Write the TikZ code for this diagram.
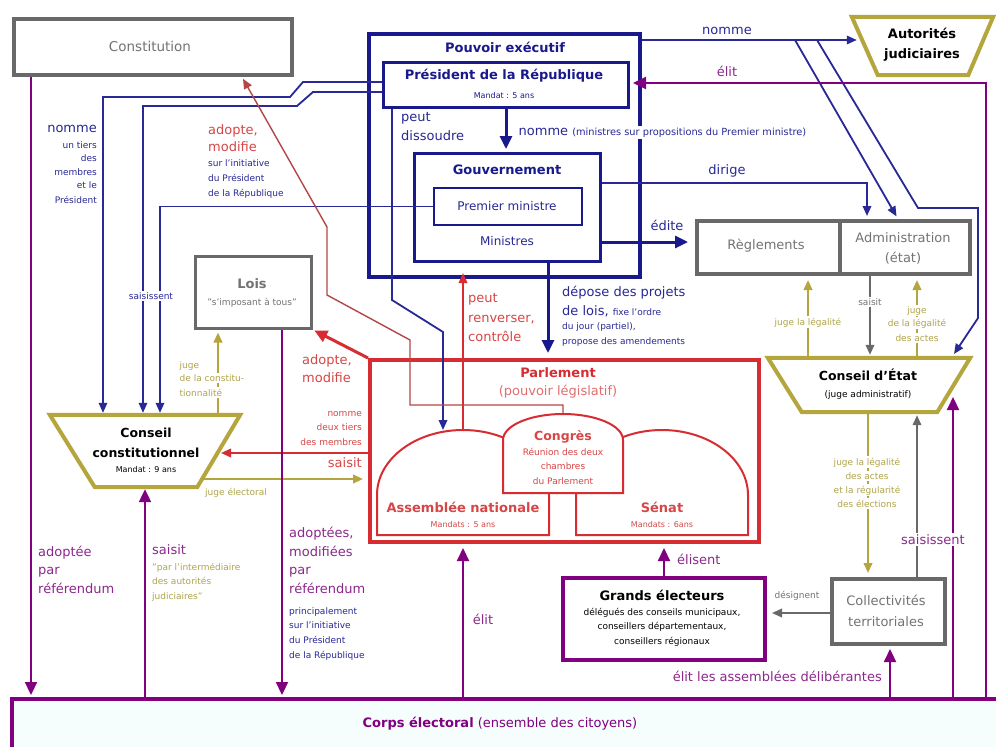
\documentclass[tikz,border=0pt]{standalone}
\usepackage{fontspec}
\setmainfont{DejaVu Sans}
\usetikzlibrary{arrows.meta,calc}
\definecolor{navy}{RGB}{25,25,140}
\definecolor{navyl}{RGB}{40,40,150}
\definecolor{rouge}{RGB}{215,45,50}
\definecolor{rougetxt}{RGB}{215,70,70}
\definecolor{rougelt}{RGB}{225,110,110}
\definecolor{brique}{RGB}{180,70,70}
\definecolor{olive}{RGB}{180,165,60}
\definecolor{olivetxt}{RGB}{175,165,75}
\definecolor{violet}{RGB}{128,0,128}
\definecolor{violettxt}{RGB}{140,40,140}
\definecolor{gris}{RGB}{105,105,105}
\definecolor{gristxt}{RGB}{115,115,115}
\begin{document}
\begin{tikzpicture}[x=1pt,y=-1pt,
  box/.style={draw, fill=white, inner sep=0pt, anchor=north west},
  fb/.style={font=\fontsize{13}{15}\selectfont},
  fbb/.style={font=\fontsize{13}{15}\selectfont\bfseries},
  fs/.style={font=\fontsize{9}{11}\selectfont},
  ft/.style={font=\fontsize{8}{10}\selectfont},
  lb/.style={inner sep=0pt},
  wb/.style={fill=white, inner sep=1.5pt},
  ahA/.style={-{Triangle[length=10pt,width=8.5pt]}},
  ahB/.style={-{Triangle[length=13pt,width=12pt]}},
  nv/.style={navyl, line width=1.8pt},
  nvb/.style={navy, line width=3pt},
  rd/.style={rouge, line width=2pt},
  rdb/.style={rouge, line width=3pt},
  brk/.style={brique, line width=1.4pt},
  ol/.style={olive, line width=2.2pt},
  gr/.style={gris, line width=2pt},
  vt/.style={violet, line width=2.2pt}
]
\useasboundingbox (0,0) rectangle (996,747);
\fill[white] (0,0) rectangle (996,747);

% ---------- boxes ----------
\node[box, draw=gris, line width=4pt, minimum width=278pt, minimum height=56pt] (const) at (12,17) {};
\node[box, draw=navy, line width=4pt, minimum width=271pt, minimum height=243pt] (pexec) at (367,32) {};
\node[box, draw=navy, line width=3pt, minimum width=245pt, minimum height=45pt] (pres) at (382,61) {};
\node[box, draw=navy, line width=3pt, minimum width=186pt, minimum height=108pt] (gouv) at (413,152) {};
\node[box, draw=navy, line width=2pt, minimum width=148pt, minimum height=37pt] (pm) at (433,187) {};
\node[box, draw=gris, line width=4pt, minimum width=143pt, minimum height=53pt] (regl) at (695,219) {};
\node[box, draw=gris, line width=4pt, minimum width=130pt, minimum height=53pt] (admin) at (838,219) {};
\node[box, draw=gris, line width=2.5pt, minimum width=116pt, minimum height=72pt] (lois) at (194,255) {};
\node[box, draw=rouge, line width=4pt, minimum width=389pt, minimum height=182pt] (parl) at (368,358) {};
\node[box, draw=violet, line width=4pt, minimum width=202pt, minimum height=82pt] (ge) at (561,576) {};
\node[box, draw=gris, line width=4pt, minimum width=113pt, minimum height=65pt] (coll) at (830,577) {};
\node[box, draw=violet, line width=4pt, fill={rgb,255:red,246;green,253;blue,253}, minimum width=1000pt, minimum height=80pt] (corps) at (10,697) {};

% ---------- trapezoids ----------
\node[lb, minimum width=190pt, minimum height=72pt] (cc) at (145,451) {};
\draw[olive, line width=4pt, fill=white] (cc.north west) -- (cc.north east) -- ($(cc.south east)+(-43,0)$) -- ($(cc.south west)+(45,0)$) -- cycle;
\node[lb, minimum width=202pt, minimum height=54pt] (ce) at (869,385) {};
\draw[olive, line width=4pt, fill=white] (ce.north west) -- (ce.north east) -- ($(ce.south east)+(-33,0)$) -- ($(ce.south west)+(34,0)$) -- cycle;
\node[lb, minimum width=141pt, minimum height=58pt] (autj) at (922.5,46) {};
\draw[olive, line width=4pt, fill=white] (autj.north west) -- (autj.north east) -- ($(autj.south east)+(-25,0)$) -- ($(autj.south west)+(26,0)$) -- cycle;

% ---------- parliament chambers ----------
\draw[rouge, line width=2pt] (377,535) -- (377,495) arc[start angle=180, end angle=360, x radius=86, y radius=65] -- (549,535) -- cycle;
\draw[rouge, line width=2pt] (576,535) -- (576,495) arc[start angle=180, end angle=360, x radius=86, y radius=65] -- (748,535) -- cycle;
\draw[rouge, line width=2pt, fill=white] (503,493) -- (503,440) arc[start angle=180, end angle=360, x radius=60, y radius=26] -- (623,493) -- cycle;
\coordinate (anTop) at (463,430);
\coordinate (cgTop) at (563,414);
\coordinate (nA) at (795,40);
\coordinate (nB) at (817,40);

% ---------- navy connectors ----------
\draw[nv, ahA, shorten >=2pt] (pres.west |- 0,82) -- (303,82) -- (290,97) -- (103,97) -- (103,0 |- cc.north);
\draw[nv, ahA, shorten >=2pt] (pres.west |- 0,92) -- (313,92) -- (297,106) -- (143,106) -- (143,0 |- cc.north);
\draw[nv, ahA, shorten >=2pt] (pm.west) -- (160,0 |- pm.west) -- (160,0 |- cc.north);
\draw[nv, ahA] (392,0 |- pres.south) -- (392,300) -- (443,332) -- (443,0 |- anTop);
\draw[nv, ahA] (pexec.east |- 0,40) -- ($(autj.west |- 0,40)+(5,0)$);
\draw[nv, ahA, shorten >=3pt] (nA) -- (898,0 |- admin.north);
\draw[nv, ahA] (nB) -- (918,208) -- (978,208) -- (978,318) -- (954,354);
\draw[nv, ahA, shorten >=3pt] (gouv.east |- 0,183) -- (867,183) -- (867,0 |- admin.north);
\draw[nvb, ahB, shorten >=3pt] (pres.south) -- (pres.south |- gouv.north);
\draw[nvb, ahB, shorten >=7pt] (gouv.east |- 0,242) -- (regl.west |- 0,242);
\draw[nvb, ahB, shorten >=5pt] (548,0 |- gouv.south) -- (548,0 |- parl.north);

% ---------- red connectors ----------
\draw[rd, ahA] (anTop) -- ($(anTop |- pexec.south)+(0,-6)$);
\draw[rdb, ahB, shorten >=2pt] (parl.north west) -- (lois.south east);
\draw[rd, ahA] (parl.west |- 0,453) -- (221,453);
\draw[brk, ahA, shorten >=2pt] (cgTop) -- (563,405) -- (410,405) -- (410,340) -- (327,295) -- (327,227) -- (242,0 |- const.south);

% ---------- olive connectors ----------
\draw[ol, ahA, shorten >=3pt] (218,0 |- cc.north) -- (218,0 |- lois.south);
\draw[ol, ahA, shorten >=5pt] (202,479) -- (parl.west |- 0,479);
\draw[ol, ahA, shorten >=4pt] (808,0 |- ce.north) -- (808,0 |- regl.south);
\draw[ol, ahA, shorten >=4pt] (917,0 |- ce.north) -- (917,0 |- admin.south);
\draw[ol, ahA, shorten >=4pt] (868,0 |- ce.south) -- (868,0 |- coll.north);

% ---------- gray connectors ----------
\draw[gr, ahA, shorten >=3pt] (870,0 |- admin.south) -- (870,0 |- ce.north);
\draw[gr, ahA, shorten >=3pt] (917,0 |- coll.north) -- (917,0 |- ce.south);
\draw[gr, ahA, shorten >=5pt] (coll.west |- 0,613) -- (ge.east |- 0,613);

% ---------- purple connectors ----------
\draw[vt, ahB, shorten >=2pt] (31,0 |- const.south) -- (31,0 |- corps.north);
\draw[vt, ahB, shorten >=2pt] (145,0 |- corps.north) -- (cc.south);
\draw[vt, ahB, shorten >=2pt] (282,0 |- lois.south) -- (282,0 |- corps.north);
\draw[vt, ahB, shorten >=4pt] (463,0 |- corps.north) -- (463,0 |- parl.south);
\draw[vt, ahB, shorten >=4pt] (ge.north) -- (ge.north |- parl.south);
\draw[vt, ahB, shorten >=3pt] (890,0 |- corps.north) -- (890,0 |- coll.south);
\draw[vt, ahB] (953,0 |- corps.north) -- (953,397);
\draw[vt, ahB, shorten >=3pt] (986,0 |- corps.north) -- (986,83) -- (pres.east |- 0,83);

% ---------- texts in boxes ----------
\node[lb, anchor=base, gristxt, font=\fontsize{13.5}{15}\selectfont] (tconst) at (150,51) {Constitution};
\node[lb, anchor=base, navy, fbb] (tpe) at (505,52) {Pouvoir exécutif};
\node[lb, anchor=base, navy, fbb] (tpres) at (504,79) {Président de la République};
\node[lb, anchor=base, navy, ft] (tpresm) at (504,98) {Mandat : 5 ans};
\node[lb, anchor=base, navy, fbb] (tgouv) at (507,174) {Gouvernement};
\node[lb, anchor=base, navyl, font=\fontsize{12}{14}\selectfont] (tpm) at (507,210) {Premier ministre};
\node[lb, anchor=base, navyl, font=\fontsize{12}{14}\selectfont] (tmin) at (507,245) {Ministres};
\node[lb, anchor=base, gristxt, fb] (tregl) at (766,249) {Règlements};
\node[lb, anchor=base, gristxt, fb] (tadm1) at (903,242) {Administration};
\node[lb, anchor=base, gristxt, fb] (tadm2) at (903,262) {(état)};
\node[lb, anchor=base, gristxt, fbb] (tlois) at (252,288) {Lois};
\node[lb, anchor=base, gristxt, fs] (tlois2) at (252,305) {"s'imposant à tous"};
\node[lb, anchor=base, fbb] (taj1) at (922,38) {Autorités};
\node[lb, anchor=base, fbb] (taj2) at (922,58) {judiciaires};
\node[lb, anchor=base, font=\fontsize{12.5}{14}\selectfont\bfseries] (tcc1) at (146,437) {Conseil};
\node[lb, anchor=base, font=\fontsize{12.5}{14}\selectfont\bfseries] (tcc2) at (146,457) {constitutionnel};
\node[lb, anchor=base, ft] (tcc3) at (146,472) {Mandat : 9 ans};
\node[lb, anchor=base, font=\fontsize{12.5}{14}\selectfont\bfseries] (tce1) at (868,380) {Conseil d'État};
\node[lb, anchor=base, fs] (tce2) at (868,397) {(juge administratif)};
\node[lb, anchor=base, rouge, fbb] (tparl1) at (558,377) {Parlement};
\node[lb, anchor=base, rougelt, fb] (tparl2) at (558,395) {(pouvoir législatif)};
\node[lb, anchor=base, rougetxt, font=\fontsize{12.5}{14}\selectfont\bfseries] (tcg1) at (563,440) {Congrès};
\node[lb, anchor=base, rougetxt, fs] (tcg2) at (563,455) {Réunion des deux};
\node[lb, anchor=base, rougetxt, fs] (tcg3) at (563,469) {chambres};
\node[lb, anchor=base, rougetxt, fs] (tcg4) at (563,484) {du Parlement};
\node[lb, anchor=base, rougetxt, fbb] (tan1) at (463,512) {Assemblée nationale};
\node[lb, anchor=base, rougetxt, ft] (tan2) at (463,527) {Mandats : 5 ans};
\node[lb, anchor=base, rougetxt, fbb] (tsen1) at (662,512) {Sénat};
\node[lb, anchor=base, rougetxt, ft] (tsen2) at (662,527) {Mandats : 6ans};
\node[lb, anchor=base, fbb] (tge1) at (662,600) {Grands électeurs};
\node[lb, anchor=base, fs] (tge2) at (662,615) {délégués des conseils municipaux,};
\node[lb, anchor=base, fs] (tge3) at (662,629) {conseillers départementaux,};
\node[lb, anchor=base, fs] (tge4) at (662,644) {conseillers régionaux};
\node[lb, anchor=base, gristxt, fb] (tcol1) at (886,605) {Collectivités};
\node[lb, anchor=base, gristxt, fb] (tcol2) at (886,626) {territoriales};
\node[lb, anchor=base, violet, fb] (tcorps) at (500,727) {\textbf{Corps électoral} (ensemble des citoyens)};

% ---------- navy labels ----------
\node[lb, anchor=base east, navyl, fb] (l1) at (97,132) {nomme};
\node[lb, anchor=base east, navyl, fs] (l2) at (97,148) {un tiers};
\node[lb, anchor=base east, navyl, fs] (l3) at (97,161) {des};
\node[lb, anchor=base east, navyl, fs] (l4) at (97,175) {membres};
\node[lb, anchor=base east, navyl, fs] (l5) at (97,188) {et le};
\node[lb, anchor=base east, navyl, fs] (l6) at (97,203) {Président};
\node[wb, anchor=base, text=navyl, fs] (l7) at (151,299) {saisissent};
\node[lb, anchor=base west, navyl, fb] (l8) at (401,121) {peut};
\node[lb, anchor=base west, navyl, fb] (l9) at (401,140) {dissoudre};
\node[wb, anchor=base west, text=navyl, fb] (l10) at (517,135) {nomme {\fontsize{9.8}{11}\selectfont(ministres sur propositions du Premier ministre)}};
\node[lb, anchor=base, navyl, fb] (l11) at (727,34) {nomme};
\node[lb, anchor=base, navyl, fb] (l12) at (727,174) {dirige};
\node[lb, anchor=base, navyl, fb] (l13) at (667,230) {édite};
\node[lb, anchor=base west, navyl, fs] (l14) at (208,166) {sur l'initiative};
\node[lb, anchor=base west, navyl, fs] (l15) at (208,181) {du Président};
\node[lb, anchor=base west, navyl, fs] (l16) at (208,196) {de la République};
\node[lb, anchor=base west, navyl, fb] (l17) at (562,296) {dépose des projets};
\node[lb, anchor=base west, navyl, fb] (l18) at (562,315) {de lois, {\fontsize{9}{11}\selectfont fixe l'ordre}};
\node[lb, anchor=base west, navyl, fs] (l19) at (562,329) {du jour (partiel),};
\node[lb, anchor=base west, navyl, fs] (l20) at (562,344) {propose des amendements};
\node[lb, anchor=base west, navyl, fs] (l21) at (289,614) {principalement};
\node[lb, anchor=base west, navyl, fs] (l22) at (289,628) {sur l'initiative};
\node[lb, anchor=base west, navyl, fs] (l23) at (289,643) {du Président};
\node[lb, anchor=base west, navyl, fs] (l24) at (289,658) {de la République};

% ---------- red labels ----------
\node[lb, anchor=base west, rougetxt, fb] (r1) at (208,134) {adopte,};
\node[lb, anchor=base west, rougetxt, fb] (r2) at (208,151) {modifie};
\node[lb, anchor=base west, rougetxt, fb] (r3) at (302,364) {adopte,};
\node[lb, anchor=base west, rougetxt, fb] (r4) at (302,382) {modifie};
\node[lb, anchor=base west, rougetxt, fb] (r5) at (468,302) {peut};
\node[lb, anchor=base west, rougetxt, fb] (r6) at (468,322) {renverser,};
\node[lb, anchor=base west, rougetxt, fb] (r7) at (468,341) {contrôle};
\node[lb, anchor=base east, rougetxt, fs] (r8) at (362,416) {nomme};
\node[lb, anchor=base east, rougetxt, fs] (r9) at (362,430) {deux tiers};
\node[lb, anchor=base east, rougetxt, fs] (r10) at (362,445) {des membres};
\node[lb, anchor=base east, rougetxt, fb] (r11) at (362,467) {saisit};

% ---------- olive labels ----------
\node[wb, anchor=base west, text=olivetxt, fs] (o1) at (178,368) {juge};
\node[wb, anchor=base west, text=olivetxt, fs] (o2) at (178,381) {de la constitu-};
\node[wb, anchor=base west, text=olivetxt, fs] (o3) at (178,396) {tionnalité};
\node[lb, anchor=base west, olivetxt, fs] (o4) at (205,495) {juge électoral};
\node[lb, anchor=base west, olivetxt, fs] (o5) at (152,570) {"par l'intermédiaire};
\node[lb, anchor=base west, olivetxt, fs] (o6) at (152,584) {des autorités};
\node[lb, anchor=base west, olivetxt, fs] (o7) at (152,599) {judiciaires"};
\node[wb, anchor=base, text=olivetxt, fs] (o8) at (808,325) {juge la légalité};
\node[wb, anchor=base, text=olivetxt, fs] (o9) at (917,313) {juge};
\node[wb, anchor=base, text=olivetxt, fs] (o10) at (917,326) {de la légalité};
\node[wb, anchor=base, text=olivetxt, fs] (o11) at (917,341) {des actes};
\node[wb, anchor=base, text=olivetxt, fs] (o12) at (867,465) {juge la légalité};
\node[wb, anchor=base, text=olivetxt, fs] (o13) at (867,479) {des actes};
\node[wb, anchor=base, text=olivetxt, fs] (o14) at (867,493) {et la régularité};
\node[wb, anchor=base, text=olivetxt, fs] (o15) at (867,507) {des élections};

% ---------- gray labels ----------
\node[wb, anchor=base, text=gristxt, fs] (g1) at (870,305) {saisit};
\node[lb, anchor=base, gristxt, fs] (g2) at (797,598) {désignent};

% ---------- purple labels ----------
\node[lb, anchor=base west, violettxt, fb] (v1) at (38,556) {adoptée};
\node[lb, anchor=base west, violettxt, fb] (v2) at (38,574) {par};
\node[lb, anchor=base west, violettxt, fb] (v3) at (38,593) {référendum};
\node[lb, anchor=base west, violettxt, fb] (v4) at (152,554) {saisit};
\node[lb, anchor=base west, violettxt, fb] (v5) at (289,537) {adoptées,};
\node[lb, anchor=base west, violettxt, fb] (v6) at (289,556) {modifiées};
\node[lb, anchor=base west, violettxt, fb] (v7) at (289,574) {par};
\node[lb, anchor=base west, violettxt, fb] (v8) at (289,593) {référendum};
\node[lb, anchor=base, violettxt, fb] (v9) at (483,624) {élit};
\node[lb, anchor=base west, violettxt, fb] (v10) at (677,564) {élisent};
\node[lb, anchor=base east, violettxt, fb] (v11) at (882,681) {élit les assemblées délibérantes};
\node[wb, anchor=base, text=violettxt, fb] (v12) at (933,544) {saisissent};
\node[lb, anchor=base, violettxt, fb] (v13) at (727,76) {élit};
\end{tikzpicture}
\end{document}
